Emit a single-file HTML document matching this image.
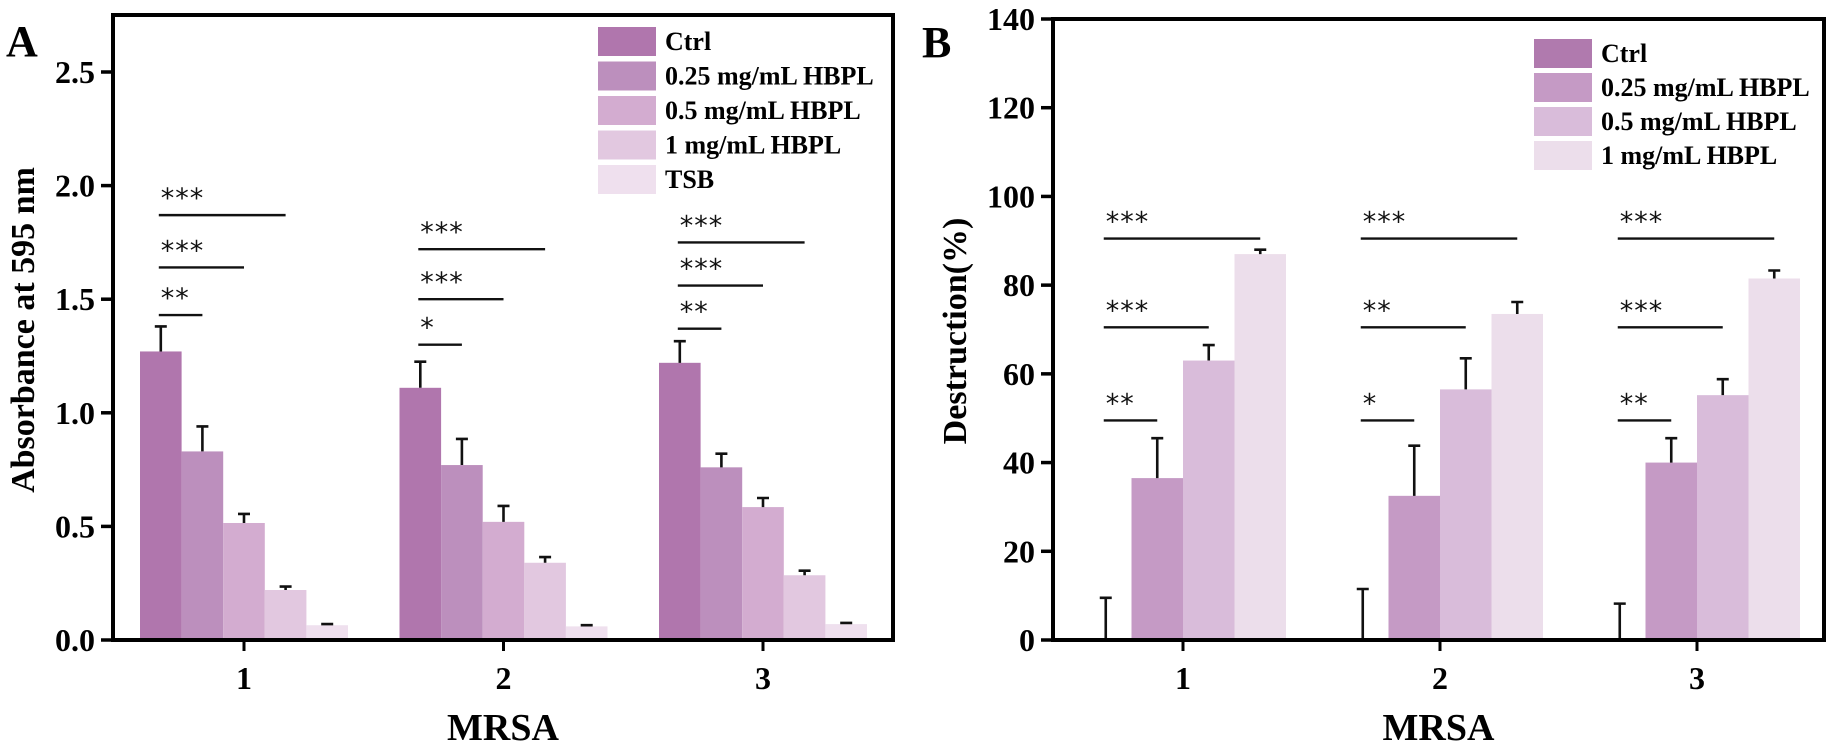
<!DOCTYPE html>
<html><head><meta charset="utf-8">
<style>
html,body{margin:0;padding:0;background:#fff;}
svg{display:block;font-family:"Liberation Serif",serif;}
</style></head>
<body>
<svg id="fig" width="1831" height="744" viewBox="0 0 1831 744" xmlns="http://www.w3.org/2000/svg"></svg>
<script>
// Panel A data
const catsA = ["1","2","3"];
const seriesA = ["Ctrl","0.25 mg/mL HBPL","0.5 mg/mL HBPL","1 mg/mL HBPL","TSB"];
const valsA = [[1.27,1.11,1.22],[0.83,0.77,0.76],[0.515,0.52,0.585],[0.22,0.34,0.285],[0.065,0.06,0.07]];
const errA = [[0.11,0.115,0.095],[0.11,0.115,0.06],[0.04,0.07,0.04],[0.015,0.025,0.02],[0.005,0.005,0.005]];
const ticksA = [0,0.5,1.0,1.5,2.0,2.5];
const tickLabelsA = ["0.0","0.5","1.0","1.5","2.0","2.5"];
const sigA = [["***","***","**"],["***","***","*"],["***","***","**"]];
const sigLevelA = [[1.87,1.64,1.43],[1.72,1.50,1.30],[1.75,1.56,1.37]];
const sigEndA = [[3,2,1],[3,2,1],[3,2,1]];
// Panel B data
const catsB = ["1","2","3"];
const seriesB = ["Ctrl","0.25 mg/mL HBPL","0.5 mg/mL HBPL","1 mg/mL HBPL"];
const valsB = [[0,0,0],[36.5,32.5,40],[63,56.5,55.2],[87,73.5,81.5]];
const errB = [[9.5,11.5,8.2],[9,11.3,5.5],[3.5,7,3.6],[1,2.7,1.8]];
const ticksB = [0,20,40,60,80,100,120,140];
const tickLabelsB = ["0","20","40","60","80","100","120","140"];
const sigB = [["***","***","**"],["***","**","*"],["***","***","**"]];
const sigLevelB = [[90.5,70.5,49.5],[90.5,70.5,49.5],[90.5,70.5,49.5]];
const sigEndB = [[3,2,1],[3,2,1],[3,2,1]];

const NS="http://www.w3.org/2000/svg";
const svg=document.getElementById('fig');
function mk(tag,attrs,parent,text){const e=document.createElementNS(NS,tag);for(const k in attrs)e.setAttribute(k,attrs[k]);if(text!==undefined)e.textContent=text;(parent||svg).appendChild(e);return e;}

function panel(cfg){
  const g=mk('g',{});
  
  
  const y=v=>cfg.y0-(v-cfg.ymin)/(cfg.ymax-cfg.ymin)*(cfg.y0-cfg.yTop);
  const nS=cfg.vals.length;
  const x=(ci,si)=>cfg.cx0+ci*cfg.gap-(nS*cfg.bw)/2+si*cfg.bw;
  for(let s=0;s<nS;s++){for(let c=0;c<cfg.cats.length;c++){
    const v=cfg.vals[s][c];
    const r=mk('rect',{x:x(c,s),y:y(v),width:cfg.bw,height:cfg.y0-y(v),fill:cfg.colors[s]},g);
    
    
    const xc=x(c,s)+cfg.bw/2, yt=y(v+cfg.err[s][c]);
    const eb=mk('path',{d:`M${xc},${y(v)}V${yt}M${xc-6},${yt}H${xc+6}`,stroke:'#111','stroke-width':2.6,fill:'none'},g);
    
    
  }}
  for(let c=0;c<cfg.cats.length;c++){for(let k=0;k<3;k++){
    const lv=y(cfg.sigLevel[c][k]);
    const x1=x(c,0)+cfg.bw/2-2, x2=x(c,cfg.sigEnd[c][k])+cfg.bw/2;
    const l=mk('line',{x1:x1,x2:x2,y1:lv,y2:lv,stroke:'#111','stroke-width':2.4},g);
    
    
    const t=mk('text',{x:x1+2,y:lv-8,'font-size':27,'font-family':'"DejaVu Sans",sans-serif',fill:'#111','letter-spacing':'1'},g,cfg.sig[c][k]);
    
    
  }}
  const fr=mk('rect',{x:cfg.xL,y:cfg.yTop2,width:cfg.xR-cfg.xL,height:cfg.y0-cfg.yTop2,fill:'none',stroke:'#000','stroke-width':4},g);
  
  
  cfg.ticks.forEach((tv,i)=>{
    const yy=y(tv);
    mk('line',{x1:cfg.xL-12,x2:cfg.xL,y1:yy,y2:yy,stroke:'#000','stroke-width':3.5},g);
    const t=mk('text',{x:cfg.xL-18,y:yy+11,'text-anchor':'end','font-size':32,'font-weight':'bold'},g,cfg.tickLabels[i]);
    
    
  });
  cfg.cats.forEach((cn,c)=>{
    const xc=cfg.cx0+c*cfg.gap;
    mk('line',{x1:xc,x2:xc,y1:cfg.y0,y2:cfg.y0+11,stroke:'#000','stroke-width':3},g);
    const t=mk('text',{x:xc,y:cfg.y0+49,'text-anchor':'middle','font-size':32,'font-weight':'bold'},g,cn);
    
    
  });
  const xt=mk('text',{x:(cfg.xL+cfg.xR)/2,y:740,'text-anchor':'middle','font-size':38,'font-weight':'bold'},g,'MRSA');
  
  
  const yt=mk('text',{x:0,y:0,'text-anchor':'middle','font-size':34,'font-weight':'bold',transform:`translate(${cfg.ytx},${cfg.yty}) rotate(-90)`},g,cfg.ytitle);
  
  
  const pl=mk('text',{x:cfg.plx,y:cfg.ply,'font-size':44,'font-weight':'bold'},g,cfg.label);
  
  
  cfg.series.forEach((s,i)=>{
    const ly=cfg.legY+i*cfg.legDy;
    const lg=mk('g',{},g);
    
    
    mk('rect',{x:cfg.legX,y:ly-14,width:58,height:29,fill:cfg.colors[i]},lg);
    mk('text',{x:cfg.legX+67,y:ly+9,'font-size':26,'font-weight':'bold'},lg,s);
  });
}

panel({name:'panel-a',key:'a',label:'A',plx:6,ply:56,cats:catsA,series:seriesA,vals:valsA,err:errA,
  ticks:ticksA,tickLabels:tickLabelsA,sig:sigA,sigLevel:sigLevelA,sigEnd:sigEndA,
  colors:['#b076ad','#bc8fbd','#d3acd0','#e2c8e0','#efe0ee'],
  ymin:0,ymax:2.5,y0:640,yTop:72,yTop2:15,xL:113,xR:893,cx0:244,gap:259.5,bw:41.6,
  ytx:34,yty:330,ytitle:'Absorbance at 595 nm',legX:598,legY:41,legDy:34.5});
panel({name:'panel-b',key:'b',label:'B',plx:922,ply:57,cats:catsB,series:seriesB,vals:valsB,err:errB,
  ticks:ticksB,tickLabels:tickLabelsB,sig:sigB,sigLevel:sigLevelB,sigEnd:sigEndB,
  colors:['#b07aae','#c59ac5','#d9bcda','#ecdeeb'],
  ymin:0,ymax:140,y0:640,yTop:19,yTop2:19,xL:1053,xR:1824,cx0:1183,gap:257,bw:51.5,
  ytx:966,yty:331,ytitle:'Destruction(%)',legX:1534,legY:53,legDy:34});
</script>
</body></html>
